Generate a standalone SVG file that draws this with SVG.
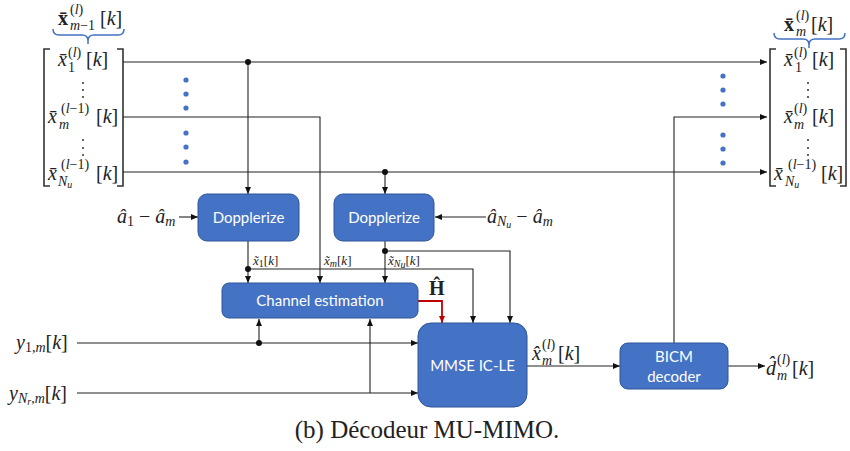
<svg xmlns="http://www.w3.org/2000/svg" width="850" height="451" viewBox="0 0 850 451">
<style>
.L{font-family:"Liberation Serif","DejaVu Serif",serif;font-size:20px;fill:#222}
.S{font-family:"Liberation Serif","DejaVu Serif",serif;font-size:14px;fill:#222}
.T{font-family:"Liberation Serif","DejaVu Serif",serif;font-size:10px;fill:#222}
.x{font-family:"Liberation Serif","DejaVu Serif",serif;font-size:13px;fill:#222}
.i{font-style:italic}
.b{font-weight:bold}
.box{fill:#4472C4;stroke:#2F5597;stroke-width:1}
.bt{font-family:Lato,"Open Sans","Liberation Sans",sans-serif;font-size:15px;fill:#fff;text-anchor:middle}
.c{fill:none;stroke:#222;stroke-width:1.1}
.red{fill:none;stroke:#C00000;stroke-width:1.8}
.brk{fill:none;stroke:#333;stroke-width:1.6}
.brace{fill:none;stroke:#4472C4;stroke-width:1.5}
.bd{fill:#4472C4}
.vd{fill:#333}
.j{fill:#111}
.cap{font-family:"Liberation Serif","DejaVu Serif",serif;font-size:25px;fill:#222;text-anchor:middle}
</style>
<defs>
<marker id="a" markerUnits="userSpaceOnUse" markerWidth="8" markerHeight="8" refX="7" refY="3" orient="auto"><path d="M0,0 L7,3 L0,6 z" fill="#111"/></marker>
<marker id="ar" markerUnits="userSpaceOnUse" markerWidth="8" markerHeight="8" refX="7" refY="3" orient="auto"><path d="M0,0 L7,3 L0,6 z" fill="#C00000"/></marker>
</defs>

<g id="left-vector">
<path class="brace" d="M53,29 q0,6 6,6 h23 q6,0 6,6 q0,-6 6,-6 h24 q6,0 6,-6 M88,41 V44"/>
<text class="L b" x="58" y="25">x̄</text><text class="S" x="70" y="14">(<tspan class="i">l</tspan>)</text><text class="S i" x="70" y="30">m<tspan font-style="normal">−1</tspan></text><text class="L" x="100" y="25">[<tspan class="i">k</tspan>]</text>
<path class="brk" d="M50,49 H44 V186 H50 M117,49 H123 V186 H117"/>
<text class="L i" x="58" y="66">x̄</text><text class="S" x="68" y="57">(<tspan class="i">l</tspan>)</text><text class="S" x="68" y="72">1</text><text class="L" x="86" y="66">[<tspan class="i">k</tspan>]</text>
<circle class="vd" cx="83" cy="83" r="1"/><circle class="vd" cx="83" cy="90" r="1"/><circle class="vd" cx="83" cy="97" r="1"/>
<text class="L i" x="48" y="123">x̄</text><text class="S" x="61" y="113">(<tspan class="i">l</tspan>−1)</text><text class="S i" x="59" y="129">m</text><text class="L" x="96" y="123">[<tspan class="i">k</tspan>]</text>
<circle class="vd" cx="83" cy="140" r="1"/><circle class="vd" cx="83" cy="148" r="1"/><circle class="vd" cx="83" cy="155" r="1"/>
<text class="L i" x="48" y="180">x̄</text><text class="S" x="61" y="169">(<tspan class="i">l</tspan>−1)</text><text class="S i" x="58" y="186">N<tspan class="T" dy="2">u</tspan></text><text class="L" x="96" y="180">[<tspan class="i">k</tspan>]</text>
</g>

<g id="right-vector">
<path class="brace" d="M774,33 q0,6 6,6 h23 q6,0 6,6 q0,-6 6,-6 h24 q6,0 6,-6 M809,45 V48"/>
<text class="L b" x="784" y="31">x̄</text><text class="S" x="796" y="20">(<tspan class="i">l</tspan>)</text><text class="S i" x="796" y="36">m</text><text class="L" x="811" y="31">[<tspan class="i">k</tspan>]</text>
<path class="brk" d="M776,49 H770 V186 H776 M840,49 H846 V186 H840"/>
<text class="L i" x="784" y="66">x̄</text><text class="S" x="794" y="57">(<tspan class="i">l</tspan>)</text><text class="S" x="795" y="72">1</text><text class="L" x="812" y="66">[<tspan class="i">k</tspan>]</text>
<circle class="vd" cx="808" cy="83" r="1"/><circle class="vd" cx="808" cy="90" r="1"/><circle class="vd" cx="808" cy="97" r="1"/>
<text class="L i" x="784" y="123">x̄</text><text class="S" x="794" y="113">(<tspan class="i">l</tspan>)</text><text class="S i" x="794" y="129">m</text><text class="L" x="812" y="123">[<tspan class="i">k</tspan>]</text>
<circle class="vd" cx="808" cy="140" r="1"/><circle class="vd" cx="808" cy="148" r="1"/><circle class="vd" cx="808" cy="155" r="1"/>
<text class="L i" x="774" y="180">x̄</text><text class="S" x="788" y="169">(<tspan class="i">l</tspan>−1)</text><text class="S i" x="785" y="186">N<tspan class="T" dy="2">u</tspan></text><text class="L" x="821" y="180">[<tspan class="i">k</tspan>]</text>
</g>

<g id="dots">
<circle class="bd" cx="186" cy="80" r="2.6"/><circle class="bd" cx="186" cy="94" r="2.6"/><circle class="bd" cx="186" cy="108" r="2.6"/>
<circle class="bd" cx="186" cy="133" r="2.6"/><circle class="bd" cx="186" cy="147" r="2.6"/><circle class="bd" cx="186" cy="162" r="2.6"/>
<circle class="bd" cx="723" cy="76" r="2.6"/><circle class="bd" cx="723" cy="90" r="2.6"/><circle class="bd" cx="723" cy="104" r="2.6"/>
<circle class="bd" cx="723" cy="135" r="2.6"/><circle class="bd" cx="723" cy="149" r="2.6"/><circle class="bd" cx="723" cy="163" r="2.6"/>
</g>

<g id="connectors">
<path class="c" d="M123,62 H767" marker-end="url(#a)"/>
<path class="c" d="M248,62 V194" marker-end="url(#a)"/>
<path class="c" d="M123,117 H320 V283" marker-end="url(#a)"/>
<path class="c" d="M123,172 H767" marker-end="url(#a)"/>
<path class="c" d="M385,172 V194" marker-end="url(#a)"/>
<path class="c" d="M674,343 V117 H767" marker-end="url(#a)"/>
<path class="c" d="M179,217 H198" marker-end="url(#a)"/>
<path class="c" d="M486,217 H435" marker-end="url(#a)"/>
<path class="c" d="M248,241 V283" marker-end="url(#a)"/>
<path class="c" d="M248,269 H473 V323" marker-end="url(#a)"/>
<path class="c" d="M385,241 V283" marker-end="url(#a)"/>
<path class="c" d="M385,251 H510 V323" marker-end="url(#a)"/>
<path class="red" d="M418,301 H442 V323" marker-end="url(#ar)"/>
<path class="c" d="M77,343 H418" marker-end="url(#a)"/>
<path class="c" d="M259,343 V319" marker-end="url(#a)"/>
<path class="c" d="M77,393 H418" marker-end="url(#a)"/>
<path class="c" d="M370,393 V319" marker-end="url(#a)"/>
<path class="c" d="M527,366 H620" marker-end="url(#a)"/>
<path class="c" d="M728,366 H765" marker-end="url(#a)"/>
<circle class="j" cx="248" cy="62" r="3"/>
<circle class="j" cx="385" cy="172" r="3"/>
<circle class="j" cx="248" cy="269" r="3"/>
<circle class="j" cx="385" cy="251" r="3"/>
<circle class="j" cx="259" cy="343" r="3"/>
<text class="x" x="253" y="265"><tspan class="i">x̃</tspan><tspan class="T" dy="2">1</tspan><tspan dy="-2">[</tspan><tspan class="i">k</tspan>]</text>
<text class="x" x="324" y="265"><tspan class="i">x̃</tspan><tspan class="T i" dy="2">m</tspan><tspan dy="-2">[</tspan><tspan class="i">k</tspan>]</text>
<text class="x" x="388" y="265"><tspan class="i">x̃</tspan><tspan class="T i" dy="2">N</tspan><tspan class="T i" font-size="7" dy="1">u</tspan><tspan dy="-3">[</tspan><tspan class="i">k</tspan>]</text>
<text class="L b" x="429" y="295">Ĥ</text>
<text class="L i" x="532" y="360">x̂</text><text class="S" x="542" y="349">(<tspan class="i">l</tspan>)</text><text class="S i" x="542" y="365">m</text><text class="L" x="558" y="360">[<tspan class="i">k</tspan>]</text>
<text class="L i" x="766" y="375">d̂</text><text class="S" x="777" y="364">(<tspan class="i">l</tspan>)</text><text class="S i" x="777" y="380">m</text><text class="L" x="792" y="375">[<tspan class="i">k</tspan>]</text>
</g>

<g id="inputs">
<text class="L" x="117" y="223"><tspan class="i">â</tspan><tspan class="S" dy="3">1</tspan><tspan dy="-3"> − </tspan><tspan class="i">â</tspan><tspan class="S i" dy="3">m</tspan></text>
<text class="L" x="487" y="223"><tspan class="i">â</tspan><tspan class="S i" dy="3">N</tspan><tspan class="T i" dy="2">u</tspan><tspan dy="-5"> − </tspan><tspan class="i">â</tspan><tspan class="S i" dy="3">m</tspan></text>
<text class="L" x="16" y="349"><tspan class="i">y</tspan><tspan class="S" dy="3">1,<tspan class="i">m</tspan></tspan><tspan dy="-3">[</tspan><tspan class="i">k</tspan>]</text>
<text class="L" x="9" y="400"><tspan class="i">y</tspan><tspan class="S i" dy="3">N</tspan><tspan class="T i" dy="2">r</tspan><tspan class="S" dy="-2">,<tspan class="i">m</tspan></tspan><tspan dy="-3">[</tspan><tspan class="i">k</tspan>]</text>
</g>

<g id="dopplerize1"><rect class="box" x="198" y="194" width="101" height="47" rx="9"/><text class="bt" x="248.5" y="223">Dopplerize</text></g>
<g id="dopplerize2"><rect class="box" x="334" y="194" width="100" height="47" rx="9"/><text class="bt" x="384" y="223">Dopplerize</text></g>
<g id="channel-estimation"><rect class="box" x="222" y="283" width="196" height="35" rx="7"/><text class="bt" x="320" y="306">Channel estimation</text></g>
<g id="mmse"><rect class="box" x="418" y="323" width="109" height="84" rx="13"/><text class="bt" x="472.5" y="371">MMSE IC-LE</text></g>
<g id="bicm"><rect class="box" x="620" y="343" width="108" height="46" rx="8"/><text class="bt" x="674" y="362">BICM</text><text class="bt" x="674" y="382">decoder</text></g>

<text class="cap" x="427" y="438">(b) Décodeur MU-MIMO.</text>
</svg>
